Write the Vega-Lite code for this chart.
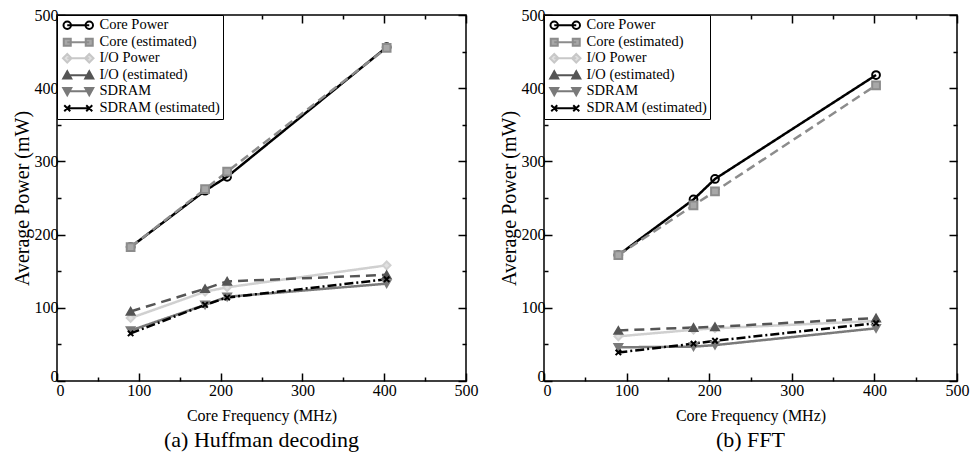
{
  "$schema": "https://vega.github.io/schema/vega-lite/v6.json",
  "padding": {"left": 11, "top": 6, "right": 0, "bottom": 2},
  "config": {
    "font": "Liberation Serif",
    "view": {"stroke": "black", "strokeWidth": 1.5},
    "axis": {"labelFont": "Liberation Serif", "labelFontSize": 16, "titleFont": "Liberation Serif", "titleFontSize": 16, "titleFontWeight": "normal", "domain": false, "grid": false, "tickColor": "black", "labelColor": "black", "titleColor": "black", "tickWidth": 1.5, "labelFlush": false},
    "axisLeft": {"titleFontSize": 20, "labelPadding": 7, "titlePadding": 2, "labelOffset": {"condition": {"test": "datum.value === 0", "value": -5}, "value": 0}},
    "axisBottom": {"labelPadding": 9, "titlePadding": 9, "labelOffset": {"condition": {"test": "datum.value === 0", "value": 3}, "value": 0}},
    "legend": {"labelFont": "Liberation Serif", "labelFontSize": 14.5, "labelColor": "black"},
    "title": {"font": "Liberation Serif", "color": "black"}
  },
  "datasets": {
    "d": [
      {"panel": "a", "series": "Core Power", "freq": 90, "power": 183},
      {"panel": "a", "series": "Core Power", "freq": 181, "power": 260},
      {"panel": "a", "series": "Core Power", "freq": 208, "power": 279},
      {"panel": "a", "series": "Core Power", "freq": 403, "power": 456},
      {"panel": "a", "series": "Core (estimated)", "freq": 90, "power": 183},
      {"panel": "a", "series": "Core (estimated)", "freq": 181, "power": 262},
      {"panel": "a", "series": "Core (estimated)", "freq": 208, "power": 286},
      {"panel": "a", "series": "Core (estimated)", "freq": 403, "power": 455},
      {"panel": "a", "series": "I/O Power", "freq": 90, "power": 86},
      {"panel": "a", "series": "I/O Power", "freq": 181, "power": 122},
      {"panel": "a", "series": "I/O Power", "freq": 208, "power": 128},
      {"panel": "a", "series": "I/O Power", "freq": 403, "power": 158},
      {"panel": "a", "series": "I/O (estimated)", "freq": 90, "power": 95},
      {"panel": "a", "series": "I/O (estimated)", "freq": 181, "power": 126},
      {"panel": "a", "series": "I/O (estimated)", "freq": 208, "power": 136},
      {"panel": "a", "series": "I/O (estimated)", "freq": 403, "power": 145},
      {"panel": "a", "series": "SDRAM", "freq": 90, "power": 69},
      {"panel": "a", "series": "SDRAM", "freq": 181, "power": 104},
      {"panel": "a", "series": "SDRAM", "freq": 208, "power": 115},
      {"panel": "a", "series": "SDRAM", "freq": 403, "power": 133},
      {"panel": "a", "series": "SDRAM (estimated)", "freq": 90, "power": 65},
      {"panel": "a", "series": "SDRAM (estimated)", "freq": 181, "power": 104},
      {"panel": "a", "series": "SDRAM (estimated)", "freq": 208, "power": 114},
      {"panel": "a", "series": "SDRAM (estimated)", "freq": 403, "power": 139},
      {"panel": "b", "series": "Core Power", "freq": 90, "power": 172},
      {"panel": "b", "series": "Core Power", "freq": 181, "power": 248},
      {"panel": "b", "series": "Core Power", "freq": 207, "power": 276},
      {"panel": "b", "series": "Core Power", "freq": 402, "power": 418},
      {"panel": "b", "series": "Core (estimated)", "freq": 90, "power": 172},
      {"panel": "b", "series": "Core (estimated)", "freq": 181, "power": 240},
      {"panel": "b", "series": "Core (estimated)", "freq": 207, "power": 259},
      {"panel": "b", "series": "Core (estimated)", "freq": 402, "power": 404},
      {"panel": "b", "series": "I/O Power", "freq": 90, "power": 61},
      {"panel": "b", "series": "I/O Power", "freq": 181, "power": 70},
      {"panel": "b", "series": "I/O Power", "freq": 207, "power": 72},
      {"panel": "b", "series": "I/O Power", "freq": 402, "power": 82},
      {"panel": "b", "series": "I/O (estimated)", "freq": 90, "power": 69},
      {"panel": "b", "series": "I/O (estimated)", "freq": 181, "power": 73},
      {"panel": "b", "series": "I/O (estimated)", "freq": 207, "power": 74},
      {"panel": "b", "series": "I/O (estimated)", "freq": 402, "power": 86},
      {"panel": "b", "series": "SDRAM", "freq": 90, "power": 46},
      {"panel": "b", "series": "SDRAM", "freq": 181, "power": 47},
      {"panel": "b", "series": "SDRAM", "freq": 207, "power": 49},
      {"panel": "b", "series": "SDRAM", "freq": 402, "power": 72},
      {"panel": "b", "series": "SDRAM (estimated)", "freq": 90, "power": 39},
      {"panel": "b", "series": "SDRAM (estimated)", "freq": 181, "power": 51},
      {"panel": "b", "series": "SDRAM (estimated)", "freq": 207, "power": 55},
      {"panel": "b", "series": "SDRAM (estimated)", "freq": 402, "power": 79}
    ]
  },
  "hconcat": [
    {
      "width": 409,
      "height": 366,
      "data": {"name": "d"},
      "transform": [{"filter": "datum.panel === 'a'"}],
      "title": {"text": "(a) Huffman decoding", "orient": "bottom", "fontSize": 22, "fontWeight": "normal", "offset": 7},
      "layer": [
        {
          "mark": {"type": "line", "strokeWidth": 2.5},
          "encoding": {
            "x": {"field": "freq", "type": "quantitative", "scale": {"domain": [0, 500]}, "axis": {"orient": "bottom", "title": "Core Frequency (MHz)", "values": [0, 50, 100, 150, 200, 250, 300, 350, 400, 450, 500], "labelExpr": "datum.value % 100 === 0 ? datum.label : ''", "tickSize": {"condition": {"test": "datum.value % 100 === 0", "value": -8}, "value": -4}}},
            "y": {"field": "power", "type": "quantitative", "scale": {"domain": [0, 500]}, "axis": {"orient": "left", "title": "Average Power (mW)", "values": [0, 50, 100, 150, 200, 250, 300, 350, 400, 450, 500], "labelExpr": "datum.value % 100 === 0 ? datum.label : ''", "labelBaseline": "middle", "tickSize": {"condition": {"test": "datum.value % 100 === 0", "value": -8}, "value": -4}}},
            "stroke": {"field": "series", "type": "nominal", "scale": {"domain": ["Core Power", "Core (estimated)", "I/O Power", "I/O (estimated)", "SDRAM", "SDRAM (estimated)"], "range": ["#000000", "#8c8c8c", "#d0d0d0", "#555555", "#7a7a7a", "#000000"]}, "legend": null},
            "strokeDash": {"field": "series", "type": "nominal", "scale": {"domain": ["Core Power", "Core (estimated)", "I/O Power", "I/O (estimated)", "SDRAM", "SDRAM (estimated)"], "range": [[1, 0], [9, 5], [1, 0], [10, 6], [1, 0], [9, 3, 2, 3]]}, "legend": null}
          }
        },
        {
          "mark": {"type": "point", "size": 60, "strokeWidth": 2, "opacity": 1},
          "encoding": {
            "x": {"field": "freq", "type": "quantitative", "axis": {"orient": "top", "title": null, "labels": false, "values": [0, 50, 100, 150, 200, 250, 300, 350, 400, 450, 500], "tickSize": {"condition": {"test": "datum.value % 100 === 0", "value": -8}, "value": -4}}},
            "y": {"field": "power", "type": "quantitative", "axis": {"orient": "right", "title": null, "labels": false, "values": [0, 50, 100, 150, 200, 250, 300, 350, 400, 450, 500], "tickSize": {"condition": {"test": "datum.value % 100 === 0", "value": -8}, "value": -4}}},
            "stroke": {"field": "series", "type": "nominal", "scale": {"domain": ["Core Power", "Core (estimated)", "I/O Power", "I/O (estimated)", "SDRAM", "SDRAM (estimated)"], "range": ["#000000", "#8c8c8c", "#d0d0d0", "#555555", "#7a7a7a", "#000000"]}, "legend": null},
            "shape": {"field": "series", "type": "nominal", "scale": {"domain": ["Core Power", "Core (estimated)", "I/O Power", "I/O (estimated)", "SDRAM", "SDRAM (estimated)"], "range": ["circle", "square", "diamond", "triangle-up", "triangle-down", "M-0.7,-0.7L0.7,0.7M-0.7,0.7L0.7,-0.7"]}, "legend": null},
            "fill": {"field": "series", "type": "nominal", "scale": {"domain": ["Core Power", "Core (estimated)", "I/O Power", "I/O (estimated)", "SDRAM", "SDRAM (estimated)"], "range": ["transparent", "#a8a8a8", "#e0e0e0", "#555555", "#7a7a7a", "transparent"]}, "legend": null}
          }
        },
        {
          "transform": [{"filter": "false"}],
          "mark": {"type": "point", "size": 60, "strokeWidth": 2, "opacity": 1},
          "encoding": {
            "stroke": {"field": "series", "type": "nominal", "scale": {"domain": ["Core Power", "Core (estimated)", "I/O Power", "I/O (estimated)", "SDRAM", "SDRAM (estimated)"], "range": ["#000000", "#8c8c8c", "#c8c8c8", "#555555", "#7a7a7a", "#000000"]}, "legend": {"title": null, "orient": "top-left", "offset": 0, "strokeColor": "black", "fillColor": "white", "padding": 3, "rowPadding": 0, "symbolSize": 100, "symbolStrokeWidth": 2, "symbolOffset": 11, "labelLimit": 300, "labelOffset": 14}},
            "shape": {"field": "series", "type": "nominal", "scale": {"domain": ["Core Power", "Core (estimated)", "I/O Power", "I/O (estimated)", "SDRAM", "SDRAM (estimated)"], "range": [
              "M-2.2,0L2.2,0M-1.45,0A0.75,0.75 0 1,1 -2.95,0A0.75,0.75 0 1,1 -1.45,0M2.95,0A0.75,0.75 0 1,1 1.45,0A0.75,0.75 0 1,1 2.95,0",
              "M-2.2,0L2.2,0M-2.9,-0.7H-1.5V0.7H-2.9ZM1.5,-0.7H2.9V0.7H1.5Z",
              "M-2.2,0L2.2,0M-2.2,-0.85L-1.35,0L-2.2,0.85L-3.05,0ZM2.2,-0.85L3.05,0L2.2,0.85L1.35,0Z",
              "M-2.2,0L2.2,0M-2.2,-0.8L-1.4,0.65L-3,0.65ZM2.2,-0.8L3,0.65L1.4,0.65Z",
              "M-2.2,0L2.2,0M-2.2,0.8L-1.4,-0.65L-3,-0.65ZM2.2,0.8L3,-0.65L1.4,-0.65Z",
              "M-2.2,0L2.2,0M-2.8,-0.6L-1.6,0.6M-2.8,0.6L-1.6,-0.6M1.6,-0.6L2.8,0.6M1.6,0.6L2.8,-0.6"
            ]}, "legend": {"title": null, "orient": "top-left"}},
            "fill": {"field": "series", "type": "nominal", "scale": {"domain": ["Core Power", "Core (estimated)", "I/O Power", "I/O (estimated)", "SDRAM", "SDRAM (estimated)"], "range": ["transparent", "#a8a8a8", "#e0e0e0", "#555555", "#7a7a7a", "transparent"]}, "legend": {"title": null, "orient": "top-left"}}
          }
        }
      ],
      "resolve": {
        "axis": {"x": "independent", "y": "independent"},
        "scale": {"stroke": "independent", "shape": "independent", "fill": "independent"},
        "legend": {"stroke": "independent", "shape": "independent", "fill": "independent"}
      }
    },
    {
      "width": 413,
      "height": 366,
      "data": {"name": "d"},
      "transform": [{"filter": "datum.panel === 'b'"}],
      "title": {"text": "(b) FFT", "orient": "bottom", "fontSize": 22, "fontWeight": "normal", "offset": 7},
      "layer": [
        {
          "mark": {"type": "line", "strokeWidth": 2.5},
          "encoding": {
            "x": {"field": "freq", "type": "quantitative", "scale": {"domain": [0, 500]}, "axis": {"orient": "bottom", "title": "Core Frequency (MHz)", "values": [0, 50, 100, 150, 200, 250, 300, 350, 400, 450, 500], "labelExpr": "datum.value % 100 === 0 ? datum.label : ''", "tickSize": {"condition": {"test": "datum.value % 100 === 0", "value": -8}, "value": -4}}},
            "y": {"field": "power", "type": "quantitative", "scale": {"domain": [0, 500]}, "axis": {"orient": "left", "title": "Average Power (mW)", "values": [0, 50, 100, 150, 200, 250, 300, 350, 400, 450, 500], "labelExpr": "datum.value % 100 === 0 ? datum.label : ''", "labelBaseline": "middle", "tickSize": {"condition": {"test": "datum.value % 100 === 0", "value": -8}, "value": -4}}},
            "stroke": {"field": "series", "type": "nominal", "scale": {"domain": ["Core Power", "Core (estimated)", "I/O Power", "I/O (estimated)", "SDRAM", "SDRAM (estimated)"], "range": ["#000000", "#8c8c8c", "#d0d0d0", "#555555", "#7a7a7a", "#000000"]}, "legend": null},
            "strokeDash": {"field": "series", "type": "nominal", "scale": {"domain": ["Core Power", "Core (estimated)", "I/O Power", "I/O (estimated)", "SDRAM", "SDRAM (estimated)"], "range": [[1, 0], [9, 5], [1, 0], [10, 6], [1, 0], [9, 3, 2, 3]]}, "legend": null}
          }
        },
        {
          "mark": {"type": "point", "size": 60, "strokeWidth": 2, "opacity": 1},
          "encoding": {
            "x": {"field": "freq", "type": "quantitative", "axis": {"orient": "top", "title": null, "labels": false, "values": [0, 50, 100, 150, 200, 250, 300, 350, 400, 450, 500], "tickSize": {"condition": {"test": "datum.value % 100 === 0", "value": -8}, "value": -4}}},
            "y": {"field": "power", "type": "quantitative", "axis": {"orient": "right", "title": null, "labels": false, "values": [0, 50, 100, 150, 200, 250, 300, 350, 400, 450, 500], "tickSize": {"condition": {"test": "datum.value % 100 === 0", "value": -8}, "value": -4}}},
            "stroke": {"field": "series", "type": "nominal", "scale": {"domain": ["Core Power", "Core (estimated)", "I/O Power", "I/O (estimated)", "SDRAM", "SDRAM (estimated)"], "range": ["#000000", "#8c8c8c", "#d0d0d0", "#555555", "#7a7a7a", "#000000"]}, "legend": null},
            "shape": {"field": "series", "type": "nominal", "scale": {"domain": ["Core Power", "Core (estimated)", "I/O Power", "I/O (estimated)", "SDRAM", "SDRAM (estimated)"], "range": ["circle", "square", "diamond", "triangle-up", "triangle-down", "M-0.7,-0.7L0.7,0.7M-0.7,0.7L0.7,-0.7"]}, "legend": null},
            "fill": {"field": "series", "type": "nominal", "scale": {"domain": ["Core Power", "Core (estimated)", "I/O Power", "I/O (estimated)", "SDRAM", "SDRAM (estimated)"], "range": ["transparent", "#a8a8a8", "#e0e0e0", "#555555", "#7a7a7a", "transparent"]}, "legend": null}
          }
        },
        {
          "transform": [{"filter": "false"}],
          "mark": {"type": "point", "size": 60, "strokeWidth": 2, "opacity": 1},
          "encoding": {
            "stroke": {"field": "series", "type": "nominal", "scale": {"domain": ["Core Power", "Core (estimated)", "I/O Power", "I/O (estimated)", "SDRAM", "SDRAM (estimated)"], "range": ["#000000", "#8c8c8c", "#c8c8c8", "#555555", "#7a7a7a", "#000000"]}, "legend": {"title": null, "orient": "top-left", "offset": 0, "strokeColor": "black", "fillColor": "white", "padding": 3, "rowPadding": 0, "symbolSize": 100, "symbolStrokeWidth": 2, "symbolOffset": 11, "labelLimit": 300, "labelOffset": 14}},
            "shape": {"field": "series", "type": "nominal", "scale": {"domain": ["Core Power", "Core (estimated)", "I/O Power", "I/O (estimated)", "SDRAM", "SDRAM (estimated)"], "range": [
              "M-2.2,0L2.2,0M-1.45,0A0.75,0.75 0 1,1 -2.95,0A0.75,0.75 0 1,1 -1.45,0M2.95,0A0.75,0.75 0 1,1 1.45,0A0.75,0.75 0 1,1 2.95,0",
              "M-2.2,0L2.2,0M-2.9,-0.7H-1.5V0.7H-2.9ZM1.5,-0.7H2.9V0.7H1.5Z",
              "M-2.2,0L2.2,0M-2.2,-0.85L-1.35,0L-2.2,0.85L-3.05,0ZM2.2,-0.85L3.05,0L2.2,0.85L1.35,0Z",
              "M-2.2,0L2.2,0M-2.2,-0.8L-1.4,0.65L-3,0.65ZM2.2,-0.8L3,0.65L1.4,0.65Z",
              "M-2.2,0L2.2,0M-2.2,0.8L-1.4,-0.65L-3,-0.65ZM2.2,0.8L3,-0.65L1.4,-0.65Z",
              "M-2.2,0L2.2,0M-2.8,-0.6L-1.6,0.6M-2.8,0.6L-1.6,-0.6M1.6,-0.6L2.8,0.6M1.6,0.6L2.8,-0.6"
            ]}, "legend": {"title": null, "orient": "top-left"}},
            "fill": {"field": "series", "type": "nominal", "scale": {"domain": ["Core Power", "Core (estimated)", "I/O Power", "I/O (estimated)", "SDRAM", "SDRAM (estimated)"], "range": ["transparent", "#a8a8a8", "#e0e0e0", "#555555", "#7a7a7a", "transparent"]}, "legend": {"title": null, "orient": "top-left"}}
          }
        }
      ],
      "resolve": {
        "axis": {"x": "independent", "y": "independent"},
        "scale": {"stroke": "independent", "shape": "independent", "fill": "independent"},
        "legend": {"stroke": "independent", "shape": "independent", "fill": "independent"}
      }
    }
  ],
  "spacing": 19,
  "resolve": {
    "scale": {"stroke": "independent", "shape": "independent", "fill": "independent", "strokeDash": "independent"},
    "legend": {"stroke": "independent", "shape": "independent", "fill": "independent", "strokeDash": "independent"}
  }
}
